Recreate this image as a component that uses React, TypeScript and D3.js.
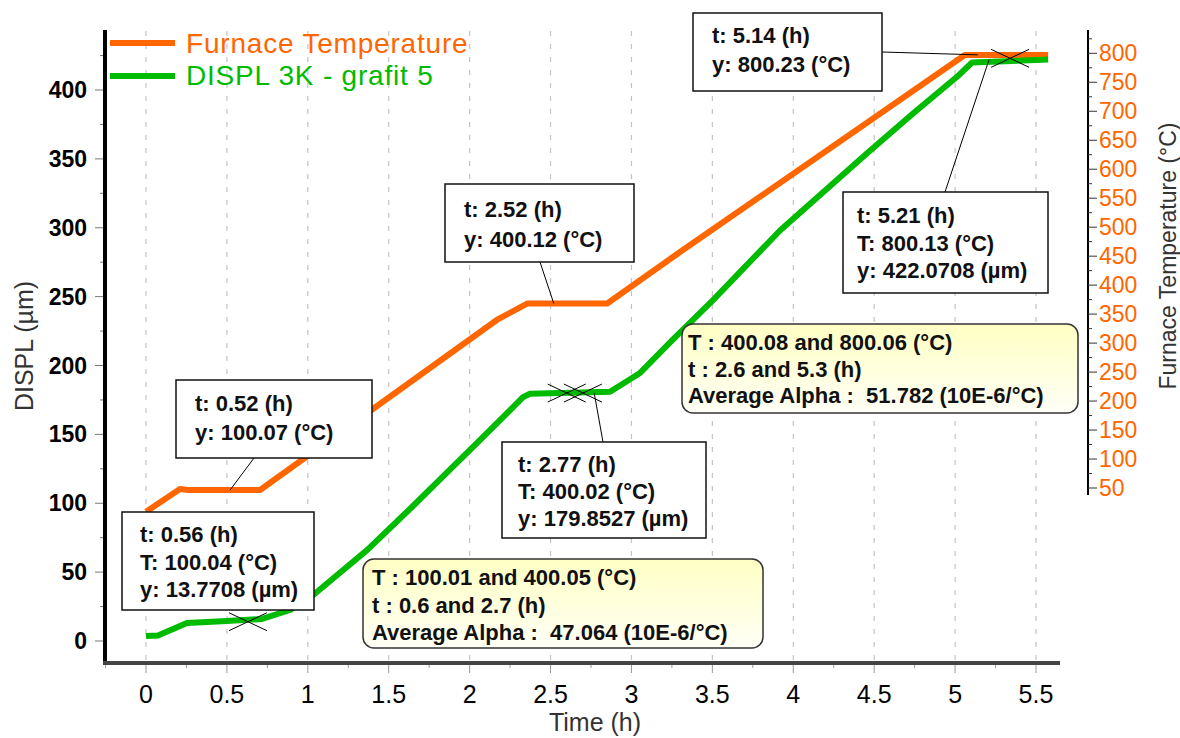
import React from "react";
import * as d3 from "d3";

// ---- data ----
const tempTimes = [0, 0.21, 0.26, 0.705, 2.17, 2.355, 2.85, 3.3, 5.06, 5.575];
const tempValues = [65, 101.5, 100, 100, 374, 400, 400, 483, 800, 800.2];

const displTimes = [0, 0.074, 0.253, 0.5, 0.717, 0.89, 1.03, 1.366, 1.65, 2.065, 2.33, 2.373, 2.868, 3.053, 3.257, 3.504, 3.918, 4.456, 4.74, 5.01, 5.105, 5.575];
const displValues = [3.6, 4, 13, 14.5, 16, 22.5, 33, 66, 98, 146, 177, 179.5, 181, 194.6, 219, 247.5, 298, 354, 383, 409.4, 420, 422.1];

const xTicks = [0, 0.5, 1, 1.5, 2, 2.5, 3, 3.5, 4, 4.5, 5, 5.5];
const xTickLabels = ["0", "0.5", "1", "1.5", "2", "2.5", "3", "3.5", "4", "4.5", "5", "5.5"];
const leftTicks = [0, 50, 100, 150, 200, 250, 300, 350, 400];
const rightTicks = [50, 100, 150, 200, 250, 300, 350, 400, 450, 500, 550, 600, 650, 700, 750, 800];

const markerTimes = [0.63, 2.6, 2.7, 5.34];
const markerValues = [14, 180, 180, 423];

const seriesNames = ["Furnace Temperature", "DISPL 3K - grafit 5"];
const ORANGE = "#FF6600";
const GREEN = "#00BB00";
const FONT = "'Liberation Sans', Arial, Helvetica, sans-serif";

// ---- scales ----
const x = d3.scaleLinear().domain([0, 5.5]).range([146, 1036]);
const yLeft = d3.scaleLinear().domain([0, 400]).range([641, 90]);
const yTemp = d3.scaleLinear().domain([100, 800]).range([490, 55]);
const yRightAxis = d3.scaleLinear().domain([50, 800]).range([488, 53.3]);

type Pt = [number, number];
const tempPts: Pt[] = tempTimes.map((t, i) => [t, tempValues[i]]);
const displPts: Pt[] = displTimes.map((t, i) => [t, displValues[i]]);

const tempLine = d3.line<Pt>().x((d) => x(d[0])).y((d) => yTemp(d[1]));
const displLine = d3.line<Pt>().x((d) => x(d[0])).y((d) => yLeft(d[1]));

type Box = {
  x: number; y: number; w: number; h: number; lines: string[];
  tx: number; base: number; step: number;
  anchor?: { t: number; v: number; axis: "temp" | "displ" }; from?: [number, number];
  yellow?: boolean;
};

const boxes: Box[] = [
  { x: 176, y: 380, w: 196, h: 78, lines: ["t: 0.52 (h)", "y: 100.07 (°C)"], tx: 195, base: 31, step: 29, anchor: { t: 0.52, v: 100.07, axis: "temp" }, from: [254, 458] },
  { x: 445, y: 184, w: 189, h: 78, lines: ["t: 2.52 (h)", "y: 400.12 (°C)"], tx: 464, base: 33, step: 30, anchor: { t: 2.52, v: 400.12, axis: "temp" }, from: [540, 262] },
  { x: 693, y: 13, w: 189, h: 78, lines: ["t: 5.14 (h)", "y: 800.23 (°C)"], tx: 712, base: 30, step: 29, anchor: { t: 5.14, v: 800.23, axis: "temp" }, from: [882, 52] },
  { x: 122, y: 512, w: 192, h: 98, lines: ["t: 0.56 (h)", "T: 100.04 (°C)", "y: 13.7708 (µm)"], tx: 140, base: 30, step: 27.5 },
  { x: 502, y: 442, w: 204, h: 96, lines: ["t: 2.77 (h)", "T: 400.02 (°C)", "y: 179.8527 (µm)"], tx: 518, base: 30, step: 27, anchor: { t: 2.77, v: 179.85, axis: "displ" }, from: [603, 442] },
  { x: 843, y: 192, w: 205, h: 101, lines: ["t: 5.21 (h)", "T: 800.13 (°C)", "y: 422.0708 (µm)"], tx: 857, base: 31, step: 27.5, anchor: { t: 5.21, v: 422.07, axis: "displ" }, from: [945, 192] },
  { x: 363, y: 559, w: 400, h: 89, lines: ["T : 100.01 and 400.05 (°C)", "t : 0.6 and 2.7 (h)", "Average Alpha :  47.064 (10E-6/°C)"], tx: 372, base: 26, step: 27.5, yellow: true },
  { x: 682, y: 324, w: 396, h: 89, lines: ["T : 400.08 and 800.06 (°C)", "t : 2.6 and 5.3 (h)", "Average Alpha :  51.782 (10E-6/°C)"], tx: 688, base: 26, step: 26.5, yellow: true },
];

export default function App() {
  const minorLeft = d3.range(25, 426, 50);
  const minorRight = d3.range(75, 826, 50);
  const minorX = d3.range(-0.25, 5.3, 0.5);
  return (
    <svg width={1180} height={738} style={{ position: "absolute", left: 0, top: 0, background: "#fff" }} fontFamily={FONT}>
      <defs>
        <linearGradient id="yel" x1="0" y1="0" x2="0" y2="1">
          <stop offset="0" stopColor="#FFFFC4" />
          <stop offset="1" stopColor="#FFFFF6" />
        </linearGradient>
      </defs>
      <rect width={1180} height={738} fill="#fff" />
      {/* grid */}
      {xTicks.map((t) => (
        <line key={"g" + t} x1={x(t)} x2={x(t)} y1={31} y2={661} stroke="#c4c4c4" strokeWidth={1.2} strokeDasharray="5,8" />
      ))}
      {/* left axis */}
      <line x1={105} x2={105} y1={30} y2={665} stroke="#000" strokeWidth={4} />
      {leftTicks.map((v) => (
        <g key={"l" + v}>
          <line x1={95} x2={103} y1={yLeft(v)} y2={yLeft(v)} stroke="#777" strokeWidth={1} />
          <text x={87} y={yLeft(v) + 8} textAnchor="end" fontSize={23} fontWeight="bold" fill="#000">{v}</text>
        </g>
      ))}
      {minorLeft.map((v) => (
        <line key={"lm" + v} x1={100} x2={103} y1={yLeft(v)} y2={yLeft(v)} stroke="#777" strokeWidth={1} />
      ))}
      <text transform="translate(33,346) rotate(-90)" textAnchor="middle" fontSize={25} fill="#333">DISPL (µm)</text>
      {/* x axis */}
      <line x1={103} x2={1060} y1={663} y2={663} stroke="#444" strokeWidth={4} />
      {xTicks.map((t, i) => (
        <g key={"x" + t}>
          <line x1={x(t)} x2={x(t)} y1={665} y2={673} stroke="#999" strokeWidth={1} />
          <text x={x(t)} y={703} textAnchor="middle" fontSize={25} fill="#000">{xTickLabels[i]}</text>
        </g>
      ))}
      {minorX.map((t) => (
        <line key={"xm" + t} x1={x(t)} x2={x(t)} y1={665} y2={668} stroke="#999" strokeWidth={1} />
      ))}
      <text x={595} y={731} textAnchor="middle" fontSize={25} fill="#333">Time (h)</text>
      {/* right axis */}
      <line x1={1088} x2={1088} y1={30} y2={495} stroke="#000" strokeWidth={2} />
      {rightTicks.map((v) => (
        <g key={"r" + v}>
          <line x1={1088} x2={1097} y1={yRightAxis(v)} y2={yRightAxis(v)} stroke="#333" strokeWidth={1} />
          <text x={1099} y={yRightAxis(v) + 8} fontSize={23} fill={ORANGE}>{v}</text>
        </g>
      ))}
      {minorRight.map((v) => (
        <line key={"rm" + v} x1={1088} x2={1092} y1={yRightAxis(v)} y2={yRightAxis(v)} stroke="#333" strokeWidth={1} />
      ))}
      <text transform="translate(1176,256) rotate(-90)" textAnchor="middle" fontSize={23} fill="#333">Furnace Temperature (°C)</text>

      {/* series */}
      <path d={tempLine(tempPts) || ""} fill="none" stroke={ORANGE} strokeWidth={6} strokeLinejoin="round" />
      <path d={displLine(displPts) || ""} fill="none" stroke={GREEN} strokeWidth={6} strokeLinejoin="round" />

      {/* cursor markers */}
      {markerTimes.map((t, i) => {
        const cx = x(t), cy = yLeft(markerValues[i]);
        return (
          <g key={"m" + i} stroke="#000" strokeWidth={1}>
            <line x1={cx - 19} y1={cy - 9} x2={cx + 19} y2={cy + 9} />
            <line x1={cx - 19} y1={cy + 9} x2={cx + 19} y2={cy - 9} />
          </g>
        );
      })}

      {/* annotation boxes */}
      {boxes.map((b, i) => {
        let leader = null;
        if (b.anchor && b.from) {
          const ax = x(b.anchor.t);
          const ay = b.anchor.axis === "temp" ? yTemp(b.anchor.v) : yLeft(b.anchor.v);
          leader = <line x1={b.from[0]} y1={b.from[1]} x2={ax} y2={ay} stroke="#000" strokeWidth={1} />;
        }
        return (
          <g key={"b" + i}>
            {leader}
            <rect x={b.x} y={b.y} width={b.w} height={b.h} rx={b.yellow ? 11 : 0} fill={b.yellow ? "url(#yel)" : "#fff"} stroke={b.yellow ? "#333" : "#111"} strokeWidth={1.5} />
            {b.lines.map((s, j) => (
              <text key={j} x={b.tx} y={b.y + b.base + j * b.step} fontSize={22} fontWeight="bold" fill="#111" style={{ whiteSpace: "pre" }}>{s}</text>
            ))}
          </g>
        );
      })}

      {/* legend */}
      <line x1={110} x2={175} y1={43} y2={43} stroke={ORANGE} strokeWidth={6} />
      <text x={186} y={53} fontSize={28} letterSpacing={0.8} fill={ORANGE}>{seriesNames[0]}</text>
      <line x1={110} x2={175} y1={76} y2={76} stroke={GREEN} strokeWidth={6} />
      <text x={186} y={85} fontSize={28} letterSpacing={0.8} fill={GREEN}>{seriesNames[1]}</text>
    </svg>
  );
}
